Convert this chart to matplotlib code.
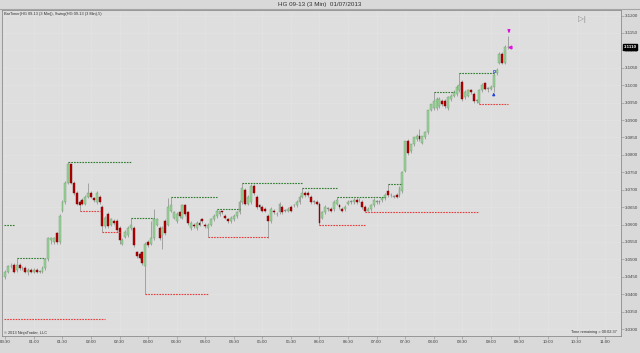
import matplotlib
matplotlib.use('Agg')
import matplotlib.pyplot as plt
from matplotlib.lines import Line2D

plt.rcParams['font.family'] = ['Liberation Sans', 'DejaVu Sans']

# 3 minute bars of HG 09-13, first bar at 00:30
first_bar_min = 30
bar_len = 3

opens = [
    3.0450, 3.0465, 3.0480, 3.0485, 3.0470, 3.0485, 3.0475, 3.0475, 3.0465, 3.0470,
    3.0465, 3.0470, 3.0465, 3.0465, 3.0475, 3.0500, 3.0555, 3.0550, 3.0575, 3.0550,
    3.0640, 3.0665, 3.0720, 3.0775, 3.0720, 3.0690, 3.0665, 3.0670, 3.0660, 3.0680,
    3.0690, 3.0675, 3.0665, 3.0680, 3.0650, 3.0595, 3.0630, 3.0600, 3.0610, 3.0610,
    3.0590, 3.0545, 3.0565, 3.0570, 3.0590, 3.0590, 3.0520, 3.0515, 3.0520, 3.0480,
    3.0550, 3.0545, 3.0560, 3.0600, 3.0590, 3.0570, 3.0610, 3.0600, 3.0640, 3.0620,
    3.0610, 3.0635, 3.0620, 3.0655, 3.0635, 3.0590, 3.0600, 3.0590, 3.0605, 3.0615,
    3.0600, 3.0590, 3.0600, 3.0615, 3.0625, 3.0630, 3.0640, 3.0625, 3.0615, 3.0610,
    3.0615, 3.0625, 3.0635, 3.0665, 3.0700, 3.0660, 3.0665, 3.0710, 3.0680, 3.0655,
    3.0650, 3.0645, 3.0625, 3.0610, 3.0640, 3.0630, 3.0635, 3.0650, 3.0640, 3.0640,
    3.0650, 3.0655, 3.0655, 3.0665, 3.0680, 3.0690, 3.0690, 3.0680, 3.0665, 3.0665,
    3.0660, 3.0620, 3.0635, 3.0645, 3.0645, 3.0645, 3.0660, 3.0655, 3.0645, 3.0645,
    3.0660, 3.0665, 3.0665, 3.0670, 3.0670, 3.0665, 3.0650, 3.0640, 3.0645, 3.0655,
    3.0665, 3.0665, 3.0670, 3.0675, 3.0695, 3.0685, 3.0680, 3.0685, 3.0685, 3.0695,
    3.0755, 3.0840, 3.0810, 3.0830, 3.0845, 3.0855, 3.0835, 3.0850, 3.0865, 3.0930,
    3.0935, 3.0935, 3.0940, 3.0955, 3.0955, 3.0935, 3.0960, 3.0970, 3.0975, 3.0985,
    3.1010, 3.0965, 3.0970, 3.0985, 3.0975, 3.0955, 3.0950, 3.0985, 3.1005, 3.0990,
    3.0990, 3.0995, 3.1035, 3.1065, 3.1090, 3.1065, 3.1110,
]
highs = [
    3.0470, 3.0485, 3.0490, 3.0490, 3.0505, 3.0490, 3.0480, 3.0480, 3.0475, 3.0475,
    3.0475, 3.0475, 3.0470, 3.0480, 3.0505, 3.0565, 3.0565, 3.0565, 3.0580, 3.0630,
    3.0670, 3.0725, 3.0780, 3.0775, 3.0725, 3.0695, 3.0670, 3.0675, 3.0685, 3.0720,
    3.0695, 3.0680, 3.0695, 3.0685, 3.0655, 3.0625, 3.0635, 3.0620, 3.0615, 3.0615,
    3.0595, 3.0560, 3.0585, 3.0595, 3.0620, 3.0595, 3.0525, 3.0520, 3.0525, 3.0550,
    3.0555, 3.0610, 3.0645, 3.0620, 3.0595, 3.0595, 3.0615, 3.0675, 3.0680, 3.0640,
    3.0635, 3.0640, 3.0660, 3.0660, 3.0640, 3.0610, 3.0605, 3.0610, 3.0615, 3.0620,
    3.0605, 3.0605, 3.0620, 3.0630, 3.0645, 3.0640, 3.0640, 3.0630, 3.0620, 3.0625,
    3.0630, 3.0640, 3.0670, 3.0720, 3.0705, 3.0685, 3.0715, 3.0715, 3.0685, 3.0660,
    3.0655, 3.0650, 3.0630, 3.0650, 3.0645, 3.0635, 3.0665, 3.0655, 3.0645, 3.0650,
    3.0655, 3.0660, 3.0670, 3.0685, 3.0705, 3.0695, 3.0695, 3.0685, 3.0670, 3.0670,
    3.0665, 3.0640, 3.0655, 3.0650, 3.0650, 3.0670, 3.0680, 3.0660, 3.0650, 3.0655,
    3.0670, 3.0670, 3.0675, 3.0675, 3.0675, 3.0670, 3.0655, 3.0650, 3.0660, 3.0675,
    3.0670, 3.0670, 3.0680, 3.0690, 3.0715, 3.0690, 3.0685, 3.0690, 3.0710, 3.0755,
    3.0840, 3.0845, 3.0830, 3.0850, 3.0860, 3.0875, 3.0855, 3.0870, 3.0930, 3.0945,
    3.0980, 3.0965, 3.0965, 3.0960, 3.0960, 3.0970, 3.0975, 3.0985, 3.1000, 3.1035,
    3.1015, 3.0985, 3.0990, 3.0990, 3.0980, 3.0960, 3.0990, 3.1005, 3.1010, 3.0995,
    3.1000, 3.1035, 3.1050, 3.1095, 3.1095, 3.1115, 3.1140,
]
lows = [
    3.0445, 3.0460, 3.0475, 3.0460, 3.0465, 3.0470, 3.0470, 3.0460, 3.0455, 3.0460,
    3.0460, 3.0460, 3.0460, 3.0460, 3.0470, 3.0495, 3.0545, 3.0545, 3.0545, 3.0545,
    3.0635, 3.0660, 3.0715, 3.0715, 3.0685, 3.0655, 3.0640, 3.0655, 3.0655, 3.0675,
    3.0675, 3.0665, 3.0660, 3.0660, 3.0580, 3.0590, 3.0590, 3.0595, 3.0600, 3.0580,
    3.0545, 3.0540, 3.0560, 3.0565, 3.0585, 3.0535, 3.0505, 3.0500, 3.0485, 3.0400,
    3.0535, 3.0540, 3.0555, 3.0595, 3.0555, 3.0530, 3.0570, 3.0595, 3.0635, 3.0615,
    3.0605, 3.0620, 3.0615, 3.0625, 3.0600, 3.0585, 3.0590, 3.0585, 3.0595, 3.0605,
    3.0590, 3.0565, 3.0595, 3.0610, 3.0620, 3.0625, 3.0630, 3.0615, 3.0605, 3.0605,
    3.0610, 3.0620, 3.0630, 3.0660, 3.0655, 3.0655, 3.0660, 3.0685, 3.0645, 3.0645,
    3.0635, 3.0635, 3.0560, 3.0605, 3.0630, 3.0625, 3.0630, 3.0630, 3.0635, 3.0635,
    3.0635, 3.0650, 3.0650, 3.0660, 3.0675, 3.0680, 3.0680, 3.0660, 3.0660, 3.0655,
    3.0600, 3.0615, 3.0630, 3.0640, 3.0635, 3.0640, 3.0655, 3.0645, 3.0635, 3.0640,
    3.0655, 3.0660, 3.0660, 3.0660, 3.0665, 3.0645, 3.0635, 3.0640, 3.0640, 3.0650,
    3.0660, 3.0660, 3.0665, 3.0670, 3.0680, 3.0680, 3.0675, 3.0675, 3.0680, 3.0690,
    3.0750, 3.0800, 3.0805, 3.0825, 3.0840, 3.0840, 3.0830, 3.0845, 3.0860, 3.0925,
    3.0930, 3.0930, 3.0935, 3.0940, 3.0935, 3.0930, 3.0955, 3.0965, 3.0970, 3.0980,
    3.0955, 3.0960, 3.0965, 3.0975, 3.0950, 3.0950, 3.0945, 3.0980, 3.0985, 3.0980,
    3.0985, 3.0980, 3.1030, 3.1060, 3.1060, 3.1060, 3.1105,
]
closes = [
    3.0465, 3.0480, 3.0480, 3.0465, 3.0485, 3.0475, 3.0475, 3.0465, 3.0470, 3.0465,
    3.0470, 3.0465, 3.0465, 3.0475, 3.0500, 3.0560, 3.0560, 3.0560, 3.0550, 3.0625,
    3.0665, 3.0720, 3.0775, 3.0720, 3.0690, 3.0660, 3.0655, 3.0660, 3.0680, 3.0690,
    3.0680, 3.0670, 3.0690, 3.0665, 3.0595, 3.0620, 3.0595, 3.0615, 3.0605, 3.0585,
    3.0555, 3.0555, 3.0580, 3.0590, 3.0600, 3.0540, 3.0510, 3.0505, 3.0490, 3.0545,
    3.0540, 3.0560, 3.0615, 3.0615, 3.0560, 3.0590, 3.0575, 3.0650, 3.0655, 3.0635,
    3.0630, 3.0625, 3.0655, 3.0630, 3.0605, 3.0605, 3.0595, 3.0605, 3.0600, 3.0610,
    3.0595, 3.0600, 3.0615, 3.0625, 3.0640, 3.0640, 3.0635, 3.0620, 3.0610, 3.0620,
    3.0625, 3.0635, 3.0665, 3.0705, 3.0660, 3.0680, 3.0710, 3.0690, 3.0650, 3.0650,
    3.0640, 3.0640, 3.0610, 3.0645, 3.0635, 3.0630, 3.0660, 3.0635, 3.0640, 3.0645,
    3.0640, 3.0655, 3.0665, 3.0680, 3.0690, 3.0685, 3.0685, 3.0665, 3.0665, 3.0660,
    3.0605, 3.0635, 3.0650, 3.0645, 3.0640, 3.0665, 3.0670, 3.0650, 3.0640, 3.0650,
    3.0665, 3.0665, 3.0670, 3.0665, 3.0670, 3.0650, 3.0640, 3.0645, 3.0655, 3.0670,
    3.0665, 3.0665, 3.0675, 3.0685, 3.0685, 3.0685, 3.0680, 3.0680, 3.0705, 3.0750,
    3.0840, 3.0805, 3.0830, 3.0850, 3.0855, 3.0845, 3.0855, 3.0865, 3.0930, 3.0945,
    3.0955, 3.0960, 3.0960, 3.0945, 3.0940, 3.0965, 3.0970, 3.0980, 3.0995, 3.1000,
    3.0960, 3.0980, 3.0985, 3.0980, 3.0955, 3.0955, 3.0985, 3.1000, 3.0990, 3.0990,
    3.0995, 3.1030, 3.1045, 3.1090, 3.1065, 3.1110, 3.1110,
]

# swing lines: (start bar, end bar, price)
swing_highs = [(-0.5, 3.5, 3.0600), (4, 14, 3.0505), (22, 44, 3.0780), (44, 52, 3.0620),
               (58, 74, 3.0680), (74, 82, 3.0645), (83, 104, 3.0720), (104, 116, 3.0705),
               (116, 133, 3.0680), (134, 139, 3.0715), (150, 157, 3.0980), (159, 171, 3.1035)]
swing_lows = [(-0.5, 35, 3.0330), (26, 33, 3.0640), (34, 40, 3.0580), (49, 71, 3.0400),
              (71, 92, 3.0565), (110, 126, 3.0600), (126, 166, 3.0635), (166, 176, 3.0945)]

y_ticks = [3.0300 + 0.005 * k for k in range(19)]
x_tick_labels = ['00:30', '01:00', '01:30', '02:00', '02:30', '03:00', '03:30', '04:00',
                 '04:30', '05:00', '05:30', '06:00', '06:30', '07:00', '07:30', '08:00',
                 '08:30', '09:00', '09:30', '10:00', '10:30', '11:00']
last_price = 3.1110

def bar_time(i):
    return first_bar_min + bar_len * i

times = [bar_time(i) for i in range(len(closes))]

fig = plt.figure(figsize=(6.4, 3.53), dpi=100, facecolor='#D9D9D9')
ax = fig.add_axes([2/640, 1-336/353, 619/640, 326/353])
ax.set_facecolor('#DEDEDE')

# wicks
ax.vlines(times, lows, highs, color='#8A8A8A', lw=0.5, zorder=2)

# bodies
bottoms, heights, faces, edges = [], [], [], []
for o, c in zip(opens, closes):
    bottoms.append(min(o, c))
    heights.append(max(abs(c - o), 0.00012))
    if c > o:
        faces.append('#98D298'); edges.append('#6F9F6F')
    elif c < o:
        faces.append('#B20000'); edges.append('#7A0000')
    else:
        faces.append('#8A8A8A'); edges.append('#8A8A8A')
ax.bar(times, heights, width=2.0, bottom=bottoms, color=faces, edgecolor=edges,
       linewidth=0.3, zorder=3)

for s, e, p in swing_highs:
    ax.plot([bar_time(s), bar_time(e)], [p, p], color='#2E7D2E', lw=0.8,
            dashes=(1.5, 1), zorder=4)
for s, e, p in swing_lows:
    ax.plot([bar_time(s), bar_time(e)], [p, p], color='#EA3C3C', lw=0.8,
            dashes=(1.5, 1), zorder=4)

# markers near the last bars
t_up = bar_time(171)
ax.annotate('', xy=(t_up, 3.0987), xytext=(t_up, 3.0962),
            arrowprops=dict(arrowstyle='-|>', color='#1F3FE0', lw=0.8, mutation_scale=3.5))
ax.plot(t_up, 3.1042, marker='s', ms=1.8, mfc='#C8D0F0', mec='#3050E0', mew=0.5, zorder=5)
t_last = bar_time(176)
ax.annotate('', xy=(t_last + 1, 3.1142), xytext=(t_last + 1, 3.1162),
            arrowprops=dict(arrowstyle='-|>', color='#E010E0', lw=0.9, mutation_scale=3.5))
ax.plot(t_last + 2.5, last_price, marker='<', ms=2, color='#E010E0', zorder=5)

ax.set_xlim(26.5, 676.7)
ax.set_ylim(3.0280, 3.1216)

ax.set_xticks([30 + 30 * k for k in range(len(x_tick_labels))])
ax.set_xticklabels(x_tick_labels)
ax.set_yticks(y_ticks)
ax.set_yticklabels(['%.4f' % v for v in y_ticks])
ax.yaxis.tick_right()
ax.tick_params(axis='both', labelsize=3.2, length=2, width=0.4, colors='#8A8A8A',
               labelcolor='#404040', pad=1)
ax.grid(True, color='#E3E3E3', lw=0.5, zorder=0)
ax.set_axisbelow(True)
for side in ['left', 'right', 'bottom', 'top']:
    ax.spines[side].set_color('#8C8C8C')
    ax.spines[side].set_linewidth(0.6)

# current price box
ax.annotate('%.4f' % last_price, xy=(1.0, last_price), xycoords=('axes fraction', 'data'),
            xytext=(1.8, 0), textcoords='offset points', fontsize=3.2, color='white',
            fontweight='bold', va='center', ha='left', annotation_clip=False,
            bbox=dict(boxstyle='square,pad=0.2', fc='black', ec='black'), zorder=10)

fig.add_artist(Line2D([0, 1], [1-9/353, 1-9/353], color='#A5A5A5', lw=0.8))
fig.text(0.5, 1-4.5/353, 'HG 09-13 (3 Min)  01/07/2013', fontsize=4.5, ha='center',
         va='center', color='#303030')
fig.text(4/640, 1-14/353, 'BarTimer(HG 09-13 (3 Min)), Swing(HG 09-13 (3 Min),5)',
         fontsize=2.8, va='center', color='#303030')
fig.text(4/640, 1-333/353, '\u00a9 2013 NinjaTrader, LLC', fontsize=2.8, va='center',
         color='#303030')
fig.text(617/640, 1-332/353, 'Time remaining = 00:02:37', fontsize=2.8, ha='right',
         va='center', color='#303030')
fig.text(582/640, 1-19/353, '\u25b7|', fontsize=5.5, ha='center', va='center', color='#8C8C8C')

fig.savefig('out.png', dpi=100, facecolor=fig.get_facecolor())
